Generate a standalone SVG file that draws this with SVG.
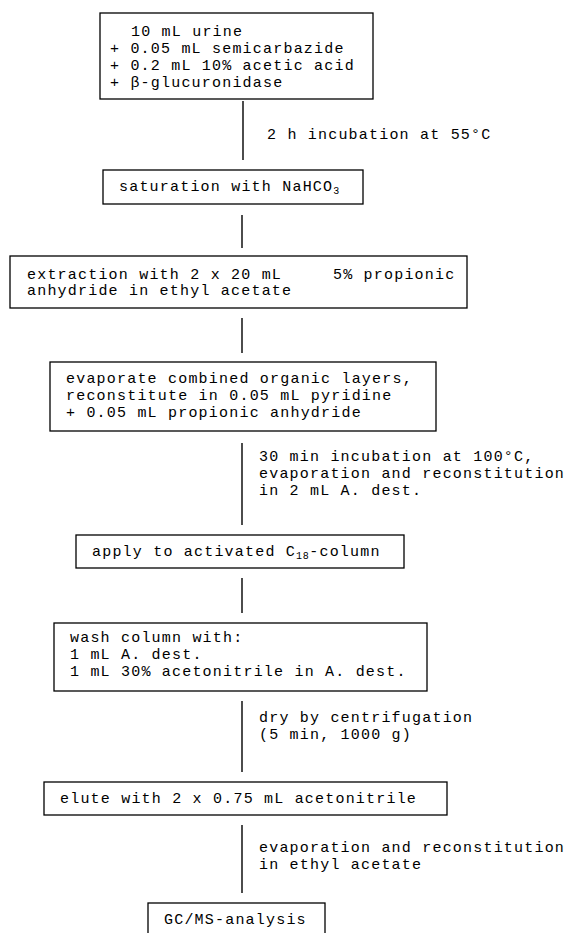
<svg xmlns="http://www.w3.org/2000/svg" width="568" height="933" viewBox="0 0 568 933">
<style>
rect{fill:#fff;stroke:#000;stroke-width:1.3}
line{stroke:#000;stroke-width:1.4}
text{font-family:"Liberation Mono","Courier New",monospace;font-size:15px;letter-spacing:1.2px;fill:#000}
.sub{font-size:10px;letter-spacing:0.6px}
</style>
<rect x="0" y="0" width="568" height="933" style="stroke:none"/>
<g id="connectors">
<line x1="243" y1="101" x2="243" y2="160"/>
<line x1="242" y1="215" x2="242" y2="248"/>
<line x1="242" y1="318" x2="242" y2="353"/>
<line x1="242" y1="443" x2="242" y2="525"/>
<line x1="242" y1="578" x2="242" y2="613"/>
<line x1="242" y1="701" x2="242" y2="772"/>
<line x1="242" y1="825" x2="242" y2="893"/>
<text x="267" y="139">2 h incubation at 55°C</text>
<text x="259" y="461">30 min incubation at 100°C,</text>
<text x="259" y="478">evaporation and reconstitution</text>
<text x="259" y="495">in 2 mL A. dest.</text>
<text x="259" y="722">dry by centrifugation</text>
<text x="259" y="739">(5 min, 1000 g)</text>
<text x="259" y="852">evaporation and reconstitution</text>
<text x="259" y="869">in ethyl acetate</text>
</g>
<g id="n1">
<rect x="100" y="13" width="273" height="86"/>
<text x="131" y="36">10 mL urine</text>
<text x="110" y="53">+ 0.05 mL semicarbazide</text>
<text x="110" y="70">+ 0.2 mL 10% acetic acid</text>
<text x="110" y="87">+ β-glucuronidase</text>
</g>
<g id="n2">
<rect x="103" y="170" width="260" height="34"/>
<text x="119" y="191">saturation with NaHCO<tspan class="sub" dy="3">3</tspan></text>
</g>
<g id="n3">
<rect x="10" y="256" width="457" height="52"/>
<text x="27" y="279">extraction with 2 x 20 mL</text>
<text x="333" y="279">5% propionic</text>
<text x="27" y="295">anhydride in ethyl acetate</text>
</g>
<g id="n4">
<rect x="50" y="362" width="386" height="69"/>
<text x="66" y="383">evaporate combined organic layers,</text>
<text x="66" y="400">reconstitute in 0.05 mL pyridine</text>
<text x="66" y="417">+ 0.05 mL propionic anhydride</text>
</g>
<g id="n5">
<rect x="76" y="535" width="328" height="33"/>
<text x="92" y="556">apply to activated C<tspan class="sub" dy="3">18</tspan><tspan dy="-3">-column</tspan></text>
</g>
<g id="n6">
<rect x="54" y="623" width="373" height="68"/>
<text x="70" y="642">wash column with:</text>
<text x="70" y="659">1 mL A. dest.</text>
<text x="70" y="676">1 mL 30% acetonitrile in A. dest.</text>
</g>
<g id="n7">
<rect x="44" y="782" width="403" height="33"/>
<text x="60" y="803">elute with 2 x 0.75 mL acetonitrile</text>
</g>
<g id="n8">
<rect x="148" y="903" width="177" height="40"/>
<text x="164" y="924">GC/MS-analysis</text>
</g>
</svg>
